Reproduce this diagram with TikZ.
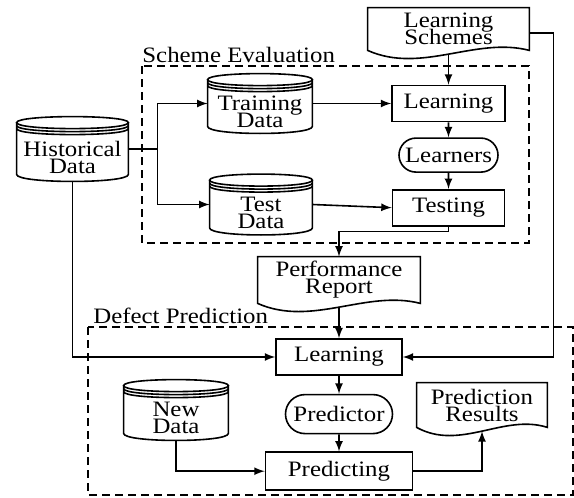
\documentclass[tikz,border=0pt]{standalone}
\usepackage{fontspec}
\setmainfont[FakeStretch=1.13]{Liberation Serif}
\usepackage{tikz}
\usetikzlibrary{arrows, shapes, positioning, calc}
\newcommand\diafont{\fontsize{11pt}{8.5pt}\selectfont\lineskiplimit=-10pt\relax}
\tikzstyle{blk}=[draw, line width=0.8pt, minimum height=18pt, inner sep=1pt, align=center]
\tikzstyle{oval}=[rounded rectangle, draw, line width=0.8pt, inner sep=1pt, align=center]
\tikzstyle{db}=[inner sep=1pt, align=center]
\tikzstyle{docu}=[inner sep=1pt, align=center]
\tikzstyle{line}=[line width=0.8pt]
\tikzstyle{arr}=[line width=0.8pt, -latex]
\tikzstyle{frame}=[line width=0.8pt, dash pattern=on 4pt off 2.5pt]

% database drum round a node (the node is the body)
\newcommand\dbshape[1]{%
  \draw[line] ([yshift=5pt]#1.north west) .. controls ([yshift=9pt]#1.north west) and ([yshift=9pt]#1.north east) .. ([yshift=5pt]#1.north east)
    .. controls ([yshift=1pt]#1.north east) and ([yshift=1pt]#1.north west) .. cycle;
  \draw[line] ([yshift=3.5pt]#1.north west) .. controls ([yshift=-0.5pt]#1.north west) and ([yshift=-0.5pt]#1.north east) .. ([yshift=3.5pt]#1.north east);
  \draw[line] ([yshift=2pt]#1.north west) .. controls ([yshift=-2pt]#1.north west) and ([yshift=-2pt]#1.north east) .. ([yshift=2pt]#1.north east);
  \draw[line] ([yshift=5pt]#1.north west) -- ([yshift=3.5pt]#1.south west)
    .. controls ([yshift=-1.2pt]#1.south west) and ([yshift=-1.2pt]#1.south east) .. ([yshift=3.5pt]#1.south east) -- ([yshift=5pt]#1.north east);
}
% document sheet with a wavy foot
\newcommand\docshape[1]{%
  \draw[line] (#1.south west) .. controls ($(#1.south west)!0.333!(#1.south east)+(0,-12pt)$) and ($(#1.south west)!0.667!(#1.south east)+(0,7pt)$) .. (#1.south east)
    -- (#1.north east) -- (#1.north west) -- cycle;
}

\begin{document}
\begin{tikzpicture}[x=0.5pt, y=0.5pt, font=\diafont]
\useasboundingbox (0,0) rectangle (574,-498);

% scheme evaluation
\node[docu, minimum width=80.5pt, minimum height=21pt] (lsch) at (448.5,-29) {Learning\\Schemes};
\node[db, minimum width=55.5pt, minimum height=24pt] (hist) at (72.5,-157) {Historical\\Data};
\node[db, minimum width=52pt, minimum height=21.5pt] (train) at (260,-111.5) {Training\\Data};
\node[db, minimum width=51pt, minimum height=22pt] (test) at (261,-212.5) {Test\\Data};
\node[blk, minimum width=56.5pt] (learn1) at (448.5,-103.5) {Learning};
\node[oval, minimum width=51.5pt, minimum height=17pt, below=7.5pt of learn1] (lrnrs) {Learners};
\node[blk, minimum width=56pt, below=8pt of lrnrs] (testing) {Testing};
\node[anchor=base west, inner sep=0pt] (sclbl) at (142,-62.5) {Scheme Evaluation};
\draw[frame] (142,-66) rectangle (529,-243);

% defect prediction
\node[docu, minimum width=81pt, minimum height=23pt] (perf) at (339,-280) {Performance\\Report};
\node[blk, minimum width=63pt] (learn2) at (339,-357) {Learning};
\node[oval, minimum width=55.5pt, minimum height=19.5pt, below=9pt of learn2] (pred) {Predictor};
\node[blk, minimum width=73.5pt, minimum height=19pt, below=8.5pt of pred] (predicting) {Predicting};
\node[db, minimum width=52pt, minimum height=22pt] (newd) at (176,-418) {New\\Data};
\node[docu, minimum width=65pt, minimum height=22pt] (pres) at (482,-405) {Prediction\\Results};
\node[anchor=base west, inner sep=0pt] (dplbl) at (93,-323) {Defect Prediction};
\draw[frame] (88,-327) rectangle (573,-495);

\dbshape{hist}
\dbshape{train}
\dbshape{test}
\dbshape{newd}
\docshape{lsch}
\docshape{perf}
\docshape{pres}

% connectors
\draw[arr] ([yshift=-1.9pt]lsch.south) -- (learn1.north);
\draw[arr] ([yshift=-2pt]lsch.east) -- ++(24,0) |- (learn2.east);
\draw[line] ([yshift=4pt]hist.east) -- ++(29,0) coordinate (br);
\draw[arr] (br) |- ([yshift=4pt]train.west);
\draw[arr] (br) |- ([yshift=4pt]test.west);
\draw[arr] ([yshift=4pt]train.east) -- (learn1.west);
\draw[arr] ([yshift=4pt]test.east) -- (testing.west);
\draw[arr] (learn1) -- (lrnrs);
\draw[arr] (lrnrs) -- (testing);
\draw[arr] (testing.south) -- ++(0,-5) -| (perf.north);
\draw[arr] ([yshift=-1.9pt]perf.south) -- (learn2.north);
\draw[arr] (hist.south) |- (learn2.west);
\draw[arr] (learn2) -- (pred);
\draw[arr] (pred) -- (predicting);
\draw[arr] (newd.south) |- (predicting.west);
\draw[arr] (predicting.east) -| ([yshift=-1.9pt]pres.south);
\end{tikzpicture}
\end{document}
